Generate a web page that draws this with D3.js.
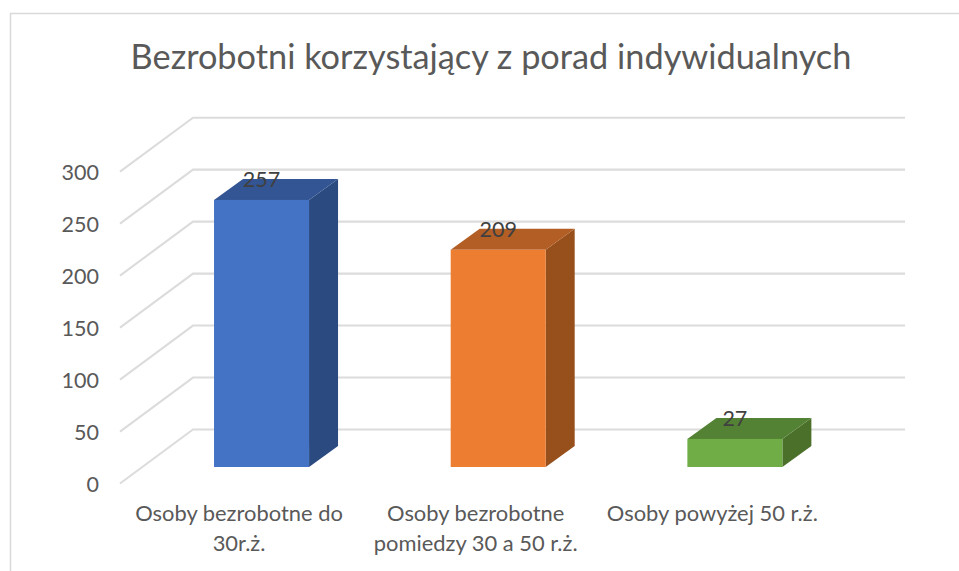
<!DOCTYPE html>
<html><head><meta charset="utf-8">
<script src="https://cdn.jsdelivr.net/npm/d3@7"></script>
<style>html,body{margin:0;padding:0;background:#fff}svg{display:block}text{font-family:Lato,Carlito,"Open Sans",sans-serif}</style>
</head><body><svg id="c" width="959" height="571"></svg>
<script>
const title = "Bezrobotni korzystający z porad indywidualnych";
const categories = ["Osoby bezrobotne do 30r.ż.", "Osoby bezrobotne pomiedzy 30 a 50 r.ż.", "Osoby powyżej 50 r.ż."];
const categoryLines = [["Osoby bezrobotne do", "30r.ż."], ["Osoby bezrobotne", "pomiedzy 30 a 50 r.ż."], ["Osoby powyżej 50 r.ż."]];
const values = [257, 209, 27];
const yTicks = [0, 50, 100, 150, 200, 250, 300];
const frontColors = ["#4472c4", "#ed7d31", "#70ad47"];
const topColors = ["#335593", "#b25e25", "#548235"];
const sideColors = ["#2a4a80", "#974f1c", "#4a7029"];

const svg = d3.select("#c");
const y = d3.scaleLinear().domain([0, 300]).range([483.5, 171.7]);
const x = d3.scaleBand().domain(categories).range([143.2, 853.2]).paddingInner(0.5986).paddingOuter(0.2993);
const wallDx = 73, wallDy = -54, floorLeft = 120, wallRight = 905;
const barDx = 29, barDy = -21, barLift = 16.5;
const ink = "#595959";

svg.append("path").attr("d", "M10.5,571V13.5H959").attr("fill", "none").attr("stroke", "#d9d9d9").attr("stroke-width", 1.5);
svg.append("text").attr("x", 491).attr("y", 69).attr("text-anchor", "middle").attr("font-size", 34.3).attr("fill", ink).text(title);

svg.append("g").selectAll("path").data(yTicks).join("path")
  .attr("d", d => `M${floorLeft},${y(d)}L${floorLeft + wallDx},${y(d) + wallDy}H${wallRight}`)
  .attr("fill", "none").attr("stroke", "#dcdcdc").attr("stroke-width", 2.1);

svg.append("g").selectAll("text").data(yTicks).join("text")
  .attr("x", 99).attr("y", d => y(d) + 8.5).attr("text-anchor", "end")
  .attr("font-size", 21.5).attr("fill", ink).text(d => d);

const bars = svg.append("g").selectAll("g").data(categories).join("g");
const geo = (c, i) => {
  const l = x(c), r = l + x.bandwidth(), b = y(0) - barLift, t = b - (y(0) - y(values[i]));
  return {l, r, b, t};
};
bars.append("path").attr("fill", (c, i) => sideColors[i]).attr("d", (c, i) => {
  const g = geo(c, i);
  return `M${g.r},${g.t}l${barDx},${barDy}V${g.b + barDy}L${g.r},${g.b}Z`;
});
bars.append("path").attr("fill", (c, i) => topColors[i]).attr("d", (c, i) => {
  const g = geo(c, i);
  return `M${g.l},${g.t}l${barDx},${barDy}H${g.r + barDx}L${g.r},${g.t}Z`;
});
bars.append("rect").attr("fill", (c, i) => frontColors[i])
  .attr("x", (c, i) => geo(c, i).l).attr("y", (c, i) => geo(c, i).t)
  .attr("width", x.bandwidth()).attr("height", (c, i) => geo(c, i).b - geo(c, i).t);
bars.append("text").attr("text-anchor", "middle").attr("font-size", 21.5).attr("fill", "#404040")
  .attr("x", c => x(c) + x.bandwidth() / 2).attr("y", (c, i) => geo(c, i).t - 13).text((c, i) => values[i]);

const labels = svg.append("g").selectAll("text").data(categories).join("text")
  .attr("text-anchor", "middle").attr("font-size", 21.9).attr("fill", ink);
labels.selectAll("tspan").data((c, i) => categoryLines[i].map(t => ({t, c}))).join("tspan")
  .attr("x", d => x(d.c) + x.bandwidth() / 2 - 22.5)
  .attr("y", (d, j) => 521 + j * 30).text(d => d.t);
</script></body></html>
